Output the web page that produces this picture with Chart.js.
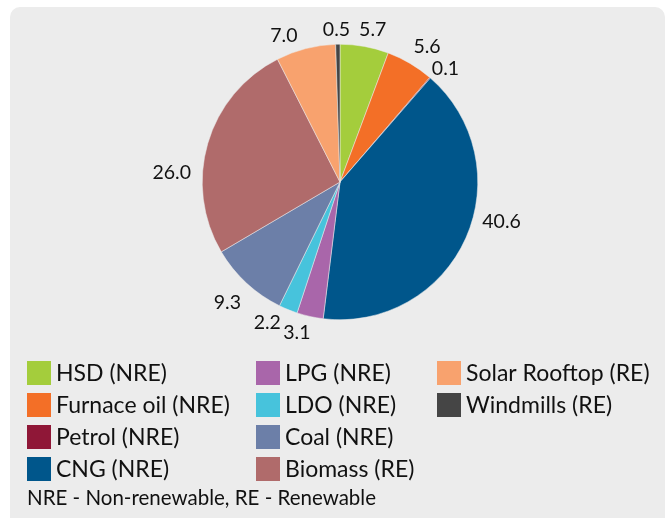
<!DOCTYPE html>
<html>
<head>
<meta charset="utf-8">
<script src="https://cdn.jsdelivr.net/npm/chart.js@4.4.1/dist/chart.umd.min.js"></script>
<style>
  html, body { margin: 0; padding: 0; background: #ffffff; }
  #wrap { width: 672px; height: 518px; position: relative; }
</style>
</head>
<body>
<div id="wrap"><canvas id="chart" width="672" height="518"></canvas></div>
<script>
const categories = [
  "HSD (NRE)", "Furnace oil (NRE)", "Petrol (NRE)", "CNG (NRE)", "LPG (NRE)",
  "LDO (NRE)", "Coal (NRE)", "Biomass (RE)", "Solar Rooftop (RE)", "Windmills (RE)"
];
const shares = [5.7, 5.6, 0.1, 40.6, 3.1, 2.2, 9.3, 26.0, 7.0, 0.5];
const footNote = "NRE - Non-renewable, RE - Renewable";

const colors = [
  "#a4cd3c", "#f36f27", "#8f1737", "#00568b", "#a966aa",
  "#47c3dc", "#6c7fa8", "#b06b6b", "#f8a26e", "#454545"
];
// small hand nudges so the value labels sit where the original put them
const labelNudge = [
  [4, 0], [5, -2], [0, 4], [9, -23], [-8, 0],
  [-12, -3], [-3, 7], [-8, 34], [-16, 4], [-1, 2]
];
const FONT = "Lato, 'Open Sans', sans-serif";

const panelBg = {
  id: "panelBg",
  beforeDraw(chart) {
    const ctx = chart.ctx;
    ctx.save();
    ctx.fillStyle = "#ececec";
    ctx.beginPath();
    ctx.roundRect(10, 7, 655, 520, 10);
    ctx.fill();
    ctx.restore();
  }
};

const valueLabels = {
  id: "valueLabels",
  afterDatasetsDraw(chart) {
    const ctx = chart.ctx;
    const meta = chart.getDatasetMeta(0);
    ctx.save();
    ctx.font = "19.5px " + FONT;
    ctx.fillStyle = "#111111";
    ctx.textAlign = "center";
    ctx.textBaseline = "middle";
    meta.data.forEach((arc, i) => {
      const p = arc.getProps(["x", "y", "startAngle", "endAngle", "outerRadius"], true);
      const mid = (p.startAngle + p.endAngle) / 2;
      const dx = Math.cos(mid), dy = Math.sin(mid);
      const txt = shares[i].toFixed(1);
      const w = ctx.measureText(txt).width, h = 14;
      const r = p.outerRadius + 10;
      const x = p.x + r * dx + dx * w / 2 + labelNudge[i][0];
      const y = p.y + r * dy + dy * h / 2 + labelNudge[i][1];
      ctx.fillText(txt, x, y);
    });
    ctx.restore();
  }
};

const gridLegend = {
  id: "gridLegend",
  afterDraw(chart) {
    const ctx = chart.ctx;
    const items = Chart.overrides.doughnut.plugins.legend.labels.generateLabels(chart);
    const colX = [27, 256, 437];
    const rowY = [373, 405, 437, 469];
    ctx.save();
    ctx.font = "23px " + FONT;
    ctx.textBaseline = "middle";
    ctx.textAlign = "left";
    items.forEach((it, i) => {
      const col = Math.floor(i / 4), row = i % 4;
      const x = colX[col], y = rowY[row];
      ctx.fillStyle = it.fillStyle;
      ctx.fillRect(x, y - 12, 24, 24);
      ctx.fillStyle = "#111111";
      ctx.fillText(it.text, x + 29, y + 1);
    });
    ctx.font = "20.5px " + FONT;
    ctx.fillText(footNote, 27, 498);
    ctx.restore();
  }
};

new Chart(document.getElementById("chart"), {
  type: "pie",
  data: {
    labels: categories,
    datasets: [{
      data: shares,
      backgroundColor: colors,
      borderColor: "#ececec",
      borderWidth: 0.5
    }]
  },
  options: {
    responsive: false,
    animation: false,
    layout: { padding: { left: 202, right: 194, top: 44, bottom: 198 } },
    plugins: {
      legend: { display: false },
      tooltip: { enabled: false }
    }
  },
  plugins: [panelBg, valueLabels, gridLegend]
});
</script>
</body>
</html>
